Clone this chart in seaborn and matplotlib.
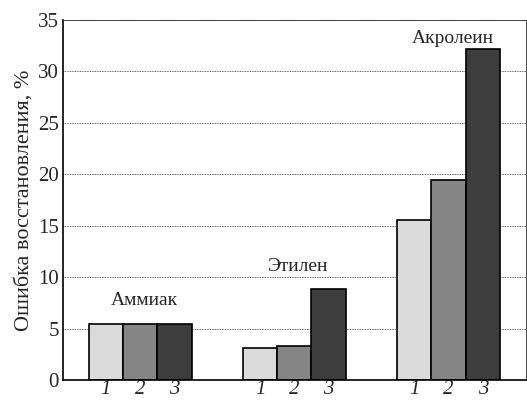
import matplotlib
matplotlib.use("Agg")
import matplotlib.pyplot as plt
import seaborn as sns
import pandas as pd

substances = ["Аммиак", "Этилен", "Акролеин"]
methods = ["1", "2", "3"]
values_m1 = [5.45, 3.1, 15.6]
values_m2 = [5.45, 3.3, 19.4]
values_m3 = [5.45, 8.85, 32.2]
y_ticks = [0, 5, 10, 15, 20, 25, 30, 35]
y_label = "Ошибка восстановления, %"

rows = []
for s, a, b, c in zip(substances, values_m1, values_m2, values_m3):
    rows += [(s, "1", a), (s, "2", b), (s, "3", c)]
df = pd.DataFrame(rows, columns=["substance", "method", "value"])

sns.set_style("white")
plt.rcParams["font.family"] = "serif"
plt.rcParams["font.serif"] = ["Liberation Serif", "DejaVu Serif"]

fig = plt.figure(figsize=(5.27, 4.0), dpi=100)
ax = fig.add_axes([0.1195, 0.05, 0.878, 0.9])

palette = {"1": "#dadada", "2": "#858585", "3": "#3d3d3d"}
sns.barplot(data=df, x="substance", y="value", hue="method", order=substances,
            hue_order=methods, palette=palette, width=0.667, ax=ax,
            edgecolor="black", linewidth=1.2, legend=False, saturation=1)

# x ticks under each bar
pos, labs = [], []
for cont, m in zip(ax.containers, methods):
    for p in cont.patches:
        pos.append(p.get_x() + p.get_width() / 2)
        labs.append(m)
ax.set_xticks(pos)
ax.set_xticklabels(labs, fontstyle="italic", fontsize=15)
ax.tick_params(axis="x", length=0, pad=0)

ax.set_ylim(0, 35)
ax.set_xlim(-0.5, 2.5)
ax.set_yticks(y_ticks)
ax.set_yticklabels([str(t) for t in y_ticks], fontsize=15)
ax.tick_params(axis="y", direction="in", length=4, width=1, pad=3)
ax.set_ylabel(y_label, fontsize=16, labelpad=3)
ax.set_xlabel("")

ax.yaxis.grid(True, linestyle=(0, (1, 1)), color="#333333", linewidth=0.6)
ax.set_axisbelow(True)
for side in ["left", "bottom"]:
    ax.spines[side].set_color("black")
    ax.spines[side].set_linewidth(1.2)
for side in ["top", "right"]:
    ax.spines[side].set_visible(True)
    ax.spines[side].set_color("#333333")
    ax.spines[side].set_linewidth(0.6)
    ax.spines[side].set_linestyle((0, (1, 1)))

# group labels above the tallest bar of each group
offsets = [11, 10, 1]
for i, s in enumerate(substances):
    top = max(values_m1[i], values_m2[i], values_m3[i])
    ax.annotate(s, (i, top), xytext=(3, offsets[i]), textcoords="offset points",
                ha="center", va="bottom", fontsize=14)

fig.savefig("out.png", dpi=100)
